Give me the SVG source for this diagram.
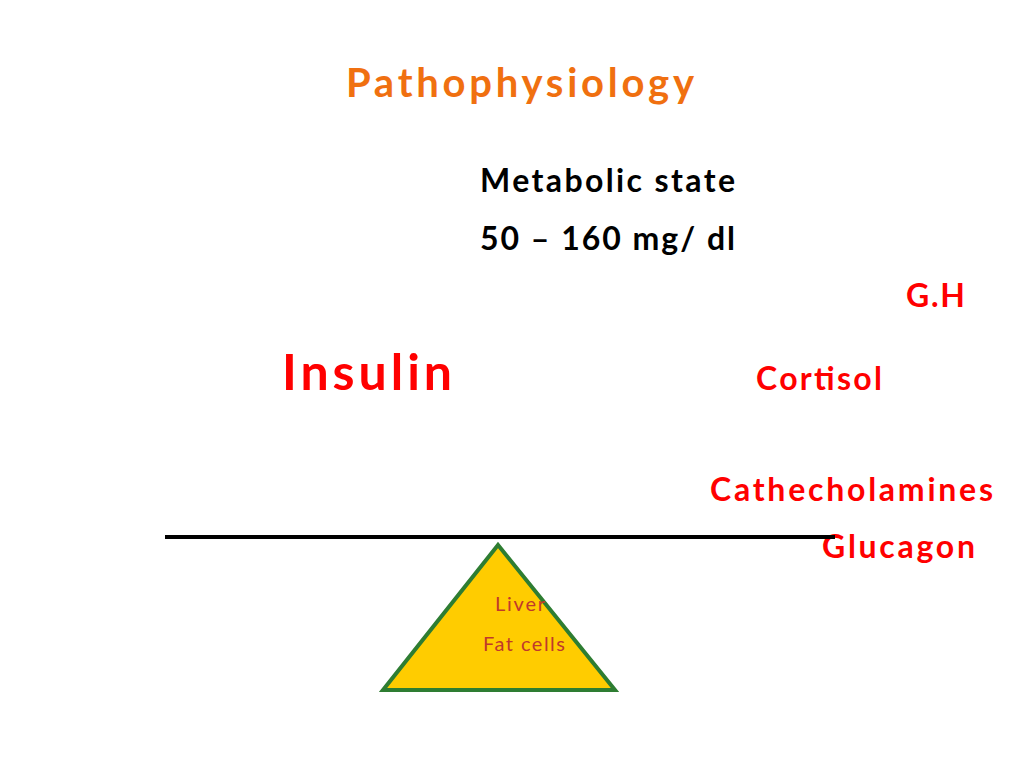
<svg xmlns="http://www.w3.org/2000/svg" width="1024" height="768" viewBox="0 0 1024 768">
<style>
text{font-family:Lato,"Open Sans","Liberation Sans",sans-serif;font-weight:bold}
.r{fill:#ff0000}
.k{fill:#000}
.s{font-weight:normal;font-size:20px;fill:#c0392b}
</style>
<rect width="1024" height="768" fill="#fff"/>
<text x="346" y="97" font-size="40" fill="#f07010" textLength="348">Pathophysiology</text>
<text class="k" x="480" y="192" font-size="32" textLength="255">Metabolic state</text>
<text class="k" x="480" y="250" font-size="32" textLength="255">50 – 160 mg/ dl</text>
<text class="r" x="906" y="307" font-size="32" textLength="59">G.H</text>
<text class="r" x="282" y="390" font-size="50" textLength="170">Insulin</text>
<text class="r" x="756" y="390" font-size="32" textLength="126">Cortisol</text>
<text class="r" x="710" y="501" font-size="32" textLength="283">Cathecholamines</text>
<text class="r" x="822" y="558" font-size="32" textLength="153">Glucagon</text>
<g id="connectors">
<line x1="165" y1="537" x2="835" y2="537" stroke="#000" stroke-width="4"/>
</g>
<g id="fulcrum">
<polygon points="498,545 383,690 615,690" fill="#ffcc00" stroke="#2e7d32" stroke-width="4"/>
<text class="s" x="495" y="611" textLength="50">Liver</text>
<text class="s" x="483" y="651" textLength="82">Fat cells</text>
</g>
</svg>
